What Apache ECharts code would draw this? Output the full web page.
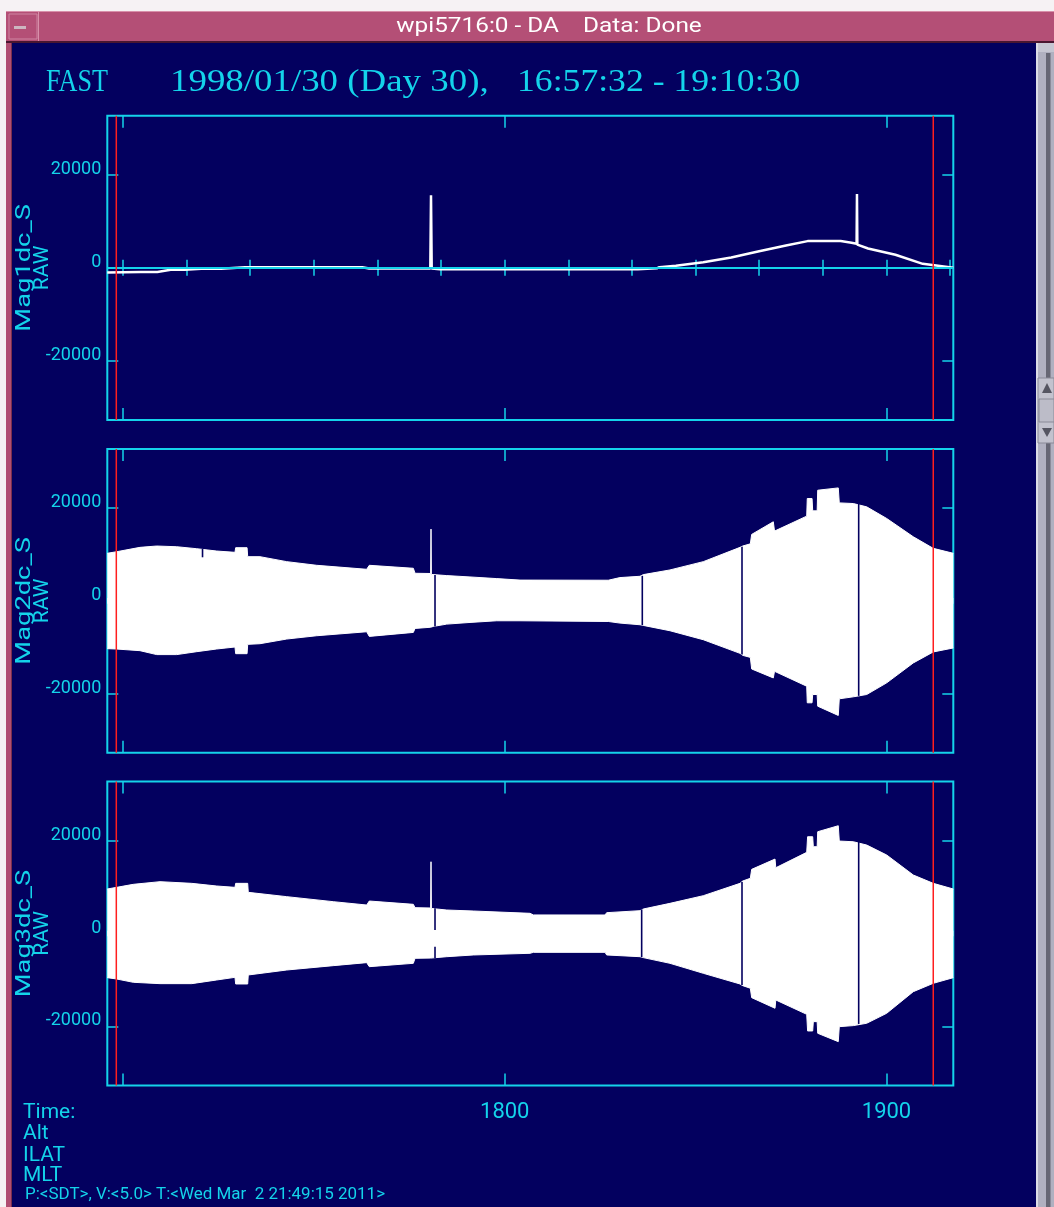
<!DOCTYPE html>
<html><head><meta charset="utf-8">
<script src="https://cdn.jsdelivr.net/npm/echarts@6/dist/echarts.min.js"></script>
<style>html,body{margin:0;padding:0;background:#fff;overflow:hidden}#c{width:1054px;height:1207px}</style>
</head><body><div id="c"></div>
<script>
// ---- time axis (minutes since 00:00 UT), 16:57:32 - 19:10:30 ----
const X_MIN = 1017.533, X_MAX = 1150.5;
const Y_MIN = -32768, Y_MAX = 32768;
const xMinorTicks = [1020,1030,1040,1050,1060,1070,1080,1090,1100,1110,1120,1130,1140,1150];
const xMajorTicks = [1020,1080,1140];
const xLabelValues = [1080,1140];
const xLabelText = ['1800','1900'];
const yTicks = [-20000,0,20000];
const panelNames = ['Mag1dc_S','Mag2dc_S','Mag3dc_S'];
const unitName = 'RAW';
const markerTimes = [1018.95, 1147.35];

// Mag1dc_S
const t1 = [1017.53,1022.80,1025.40,1027.50,1029.70,1032.30,1035.40,1039.20,1057.60,1058.70,1068.30,1068.41,1068.52,1069.80,1100.90,1103.90,1104.30,1106.90,1111.20,1115.60,1119.80,1124.20,1127.60,1132.80,1134.50,1135.30,1135.36,1135.42,1137.10,1141.40,1145.70,1150.50];
const v1 = [-1000,-870,-870,-430,-430,-220,-220,140,140,-150,-150,15630,-150,-300,-300,-100,140,430,1210,2230,3520,4820,5760,5760,5400,5200,15920,5000,4170,2810,860,0];

// Mag2dc_S envelope (upper / lower)
const t2 = [1017.53,1019.00,1022.67,1025.30,1028.44,1031.58,1034.73,1037.60,1037.71,1039.50,1039.60,1041.53,1045.73,1050.44,1058.30,1058.71,1065.63,1065.90,1068.35,1068.41,1068.47,1068.77,1070.88,1074.54,1078.74,1082.40,1096.27,1098.11,1101.26,1101.78,1105.97,1111.21,1116.98,1117.40,1118.60,1118.81,1122.21,1122.40,1127.46,1127.55,1128.30,1128.40,1129.10,1129.19,1132.42,1132.58,1134.78,1136.89,1140.03,1144.21,1147.35,1150.50];
const hi2 = [10260,10600,11540,11830,11680,11250,10750,10470,11470,11470,9530,9530,8460,7670,6810,7670,7030,5950,5900,15480,5700,5590,5450,5160,4800,4480,4450,5020,5300,5660,6670,8460,11540,11830,12300,14340,17060,15050,18280,22080,22080,19420,19420,23870,24370,21140,21000,20280,17780,13830,11330,10260];
const lo2 = [-10320,-10400,-10750,-11600,-11600,-10970,-10390,-9960,-11400,-11400,-9390,-9250,-8240,-7530,-6670,-7670,-6810,-5950,-5700,-5700,-5600,-5520,-5020,-4660,-4300,-4300,-4450,-4800,-5160,-5300,-6450,-8390,-11330,-11760,-12200,-14700,-16630,-15200,-18420,-22000,-22000,-20210,-20210,-22730,-24730,-21140,-20710,-20210,-17700,-13400,-11030,-10170];
const gapT2 = [1032.50,1069.04,1101.62,1117.29,1135.63];
const gapLo2 = [9400,-5520,-5250,-11600,-20500];
const gapHi2 = [11200,5600,5400,11700,20900];

// Mag3dc_S envelope (upper / lower)
const t3 = [1017.53,1019.01,1021.62,1025.82,1030.80,1034.73,1037.60,1037.71,1039.60,1039.69,1045.73,1053.05,1058.30,1058.71,1065.63,1065.90,1068.35,1068.41,1068.47,1070.88,1075.06,1083.97,1084.50,1095.76,1096.02,1101.26,1101.78,1105.97,1111.21,1116.98,1117.40,1118.60,1118.81,1122.48,1122.60,1127.46,1127.60,1128.40,1128.50,1129.10,1129.19,1132.42,1132.58,1134.78,1136.89,1140.03,1144.21,1147.35,1150.50];
const hi3 = [9590,9950,10600,11170,10810,10240,9950,10810,10810,8870,7940,6860,6140,7000,6290,5570,5500,15470,5400,5060,4850,4350,4000,3990,4490,4920,5280,6500,8150,10810,11310,11900,13830,16050,14180,17490,20860,20860,18710,18710,21940,23230,19930,19780,19070,16920,12610,10810,9590];
const lo3 = [-9520,-9810,-10520,-10810,-10810,-10020,-9450,-10880,-10880,-8940,-7870,-6930,-6280,-7150,-6430,-5350,-5300,-5300,-5200,-5000,-4630,-4270,-4060,-4060,-4630,-5000,-5200,-6430,-8580,-10880,-11240,-11800,-13830,-16120,-14330,-17420,-21010,-21010,-19000,-19000,-21510,-23310,-20080,-19860,-19350,-17200,-12540,-10740,-9520];
const gapT3 = [1069.04,1069.04,1101.52,1117.29,1135.63];
const gapLo3 = [750,-5340,-5100,-11100,-19500];
const gapHi3 = [5430,-2840,5200,11100,19800];

// ---- styling ----
const NAVY = '#03005f', CYAN = '#14d3ea', RED = '#ff1e1e', WHITE = '#ffffff';
const SANS = 'Roboto, "DejaVu Sans", sans-serif';

const gridBoxes = [[115.7,304.3],[449,303.7],[781.5,304]];
const grid = gridBoxes.map(g => ({left:107.3, width:846, top:g[0], height:g[1], show:true,
  borderColor:CYAN, borderWidth:2, backgroundColor:'transparent'}));

function xAx(gi, pos, ticks, len, labels) {
  return {type:'value', gridIndex:gi, min:X_MIN, max:X_MAX, position:pos,
    axisLine:{show:false}, splitLine:{show:false},
    axisTick:{show:true, inside:true, length:len, customValues:ticks, lineStyle:{color:CYAN, width:1.5}},
    axisLabel: labels ? {show:true, customValues:xLabelValues, color:CYAN, fontFamily:SANS, fontSize:22,
      margin:16, verticalAlign:'top', lineHeight:22,
      formatter: v => xLabelText[xLabelValues.indexOf(Math.round(v))] || ''} : {show:false}};
}
function yAx(gi, pos, labels) {
  return {type:'value', gridIndex:gi, min:Y_MIN, max:Y_MAX, position:pos,
    axisLine:{show:false}, splitLine:{show:false},
    axisTick:{show:true, inside:true, length:11, customValues:yTicks, lineStyle:{color:CYAN, width:1.5}},
    axisLabel: labels ? {show:true, customValues:yTicks, color:CYAN, fontFamily:SANS, fontSize:18,
      margin:6, verticalAlign:'bottom', lineHeight:11, formatter: v => String(v)} : {show:false}};
}
const xAxis = [], yAxis = [];
for (let i = 0; i < 3; i++) {
  xAxis.push(xAx(i,'bottom',xMinorTicks,8,i===2));
  xAxis.push(xAx(i,'top',xMinorTicks,8,false));
  xAxis.push(xAx(i,'bottom',xMajorTicks,12,false));
  xAxis.push(xAx(i,'top',xMajorTicks,12,false));
  yAxis.push(yAx(i,'left',true));
  yAxis.push(yAx(i,'right',false));
}

const pairs = (t, v) => t.map((x, k) => [x, v[k]]);

function gapSeries(gi, gt, glo, ghi) {
  return {type:'custom', xAxisIndex:gi*4, yAxisIndex:gi*2, z:4, silent:true, animation:false,
    data: gt.map((t,k) => [t, glo[k], ghi[k]]),
    encode:{x:0, y:[1,2]},
    renderItem:(params, api) => {
      const a = api.coord([api.value(0), api.value(1)]);
      const b = api.coord([api.value(0), api.value(2)]);
      return {type:'line', shape:{x1:a[0], y1:a[1], x2:b[0], y2:b[1]}, style:{stroke:NAVY, lineWidth:1.6}};
    }};
}
function markerSeries(gi) {
  return {type:'custom', xAxisIndex:gi*4, yAxisIndex:gi*2, z:6, silent:true, animation:false,
    data: markerTimes.map(t => [t]), encode:{x:0},
    renderItem:(params, api) => {
      const a = api.coord([api.value(0), Y_MAX]);
      const b = api.coord([api.value(0), Y_MIN]);
      return {type:'line', shape:{x1:a[0], y1:a[1], x2:b[0], y2:b[1]}, style:{stroke:RED, lineWidth:1.5}};
    }};
}
// upper and lower envelopes each filled toward (slightly past) zero so they overlap
function bandSeries(gi, t, v, origin) {
  return {type:'line', xAxisIndex:gi*4, yAxisIndex:gi*2, z:3, silent:true, animation:false,
    data: pairs(t, v), showSymbol:false, symbol:'none',
    lineStyle:{color:WHITE, width:1}, areaStyle:{color:WHITE, opacity:1, origin:origin}};
}

const series = [
  {type:'line', xAxisIndex:0, yAxisIndex:0, z:1, silent:true, animation:false, data:[],
    markLine:{silent:true, symbol:'none', animation:false, label:{show:false},
      lineStyle:{color:CYAN, width:2, type:'solid'}, data:[{yAxis:0}]}},
  {type:'line', xAxisIndex:0, yAxisIndex:0, z:3, silent:true, animation:false,
    data: pairs(t1, v1), showSymbol:false, symbol:'none', lineStyle:{color:WHITE, width:2.5}},
  markerSeries(0),
  bandSeries(1, t2, hi2, -600), bandSeries(1, t2, lo2, 600), gapSeries(1, gapT2, gapLo2, gapHi2), markerSeries(1),
  bandSeries(2, t3, hi3, -600), bandSeries(2, t3, lo3, 600), gapSeries(2, gapT3, gapLo3, gapHi3), markerSeries(2)
];

// ---- window chrome and text ----
const graphic = [
  {type:'rect', shape:{x:0,y:0,width:1054,height:11}, style:{fill:'#f6f2f4'}},
  {type:'rect', shape:{x:0,y:0,width:6,height:1207}, style:{fill:'#f6f2f4'}},
  {type:'rect', shape:{x:6,y:11,width:6,height:1196}, style:{fill:'#b04d72'}},
  {type:'rect', shape:{x:11,y:42,width:1,height:1165}, style:{fill:'#7a2e4c'}},
  {type:'rect', shape:{x:6,y:11,width:1048,height:31}, style:{fill:'#b44f76'}},
  {type:'rect', shape:{x:6,y:11,width:1048,height:1}, style:{fill:'#d890aa'}},
  {type:'rect', shape:{x:6,y:41,width:1048,height:2}, style:{fill:'#4a1630'}},
  {type:'rect', shape:{x:9,y:14,width:28,height:25}, style:{fill:'none', stroke:'#cf86a2', lineWidth:1}},
  {type:'rect', shape:{x:14,y:26,width:12,height:3}, style:{fill:'#cdb6c0'}},
  {type:'rect', shape:{x:38,y:12,width:1,height:29}, style:{fill:'#d890aa'}},
  {type:'text', x:549, y:27, scaleX:1.16, style:{text:'wpi5716:0 - DA    Data: Done', fill:'#ffffff', font:'21px ' + SANS, align:'center', verticalAlign:'middle'}},
  {type:'rect', shape:{x:1036,y:43,width:18,height:1164}, style:{fill:'#b0b0c0'}},
  {type:'rect', shape:{x:1036,y:43,width:2,height:1164}, style:{fill:'#dcdce6'}},
  {type:'rect', shape:{x:1038,y:43,width:16,height:9}, style:{fill:'#c6c6d2'}},
  {type:'rect', shape:{x:1046,y:53,width:4.5,height:325}, style:{fill:'#666674'}},
  {type:'rect', shape:{x:1046,y:443,width:4.5,height:764}, style:{fill:'#666674'}},
  {type:'rect', shape:{x:1038,y:378,width:16,height:65}, style:{fill:'#c2c2ce', stroke:'#8a8a98', lineWidth:1}},
  {type:'rect', shape:{x:1039,y:399,width:15,height:23}, style:{fill:'#bcbcc8', stroke:'#8a8a98', lineWidth:1}},
  {type:'polygon', shape:{points:[[1047,383],[1042,393],[1052,393]]}, style:{fill:'#555562'}},
  {type:'polygon', shape:{points:[[1042,428],[1052,428],[1047,437]]}, style:{fill:'#555562'}},
  {type:'text', x:46, y:83, scaleX:0.845, style:{text:'FAST', fill:CYAN, font:'31px "Liberation Serif", serif', verticalAlign:'middle'}},
  {type:'text', x:170, y:83, scaleX:1.19, style:{text:'1998/01/30 (Day 30),', fill:CYAN, font:'31px "Liberation Serif", serif', verticalAlign:'middle'}},
  {type:'text', x:517, y:83, scaleX:1.15, style:{text:'16:57:32 - 19:10:30', fill:CYAN, font:'31px "Liberation Serif", serif', verticalAlign:'middle'}},
  {type:'text', x:23, y:1113, style:{text:'Time:', fill:CYAN, font:'21px ' + SANS, verticalAlign:'middle'}},
  {type:'text', x:23, y:1134, style:{text:'Alt', fill:CYAN, font:'21px ' + SANS, verticalAlign:'middle'}},
  {type:'text', x:23, y:1155.5, style:{text:'ILAT', fill:CYAN, font:'21px ' + SANS, verticalAlign:'middle'}},
  {type:'text', x:23, y:1175.5, style:{text:'MLT', fill:CYAN, font:'21px ' + SANS, verticalAlign:'middle'}},
  {type:'text', x:25, y:1195, scaleX:1.06, style:{text:'P:<SDT>, V:<5.0> T:<Wed Mar  2 21:49:15 2011>', fill:CYAN, font:'16px ' + SANS, verticalAlign:'middle'}}
];
const panelCenters = gridBoxes.map(g => g[0] + g[1] / 2);
panelCenters.forEach((cy, i) => {
  graphic.push({type:'text', x:25, y:cy, rotation:Math.PI/2, scaleX:1.3,
    style:{text:panelNames[i], fill:CYAN, font:'21px ' + SANS, align:'center', verticalAlign:'middle'}});
  graphic.push({type:'text', x:42.5, y:cy, rotation:Math.PI/2,
    style:{text:unitName, fill:CYAN, font:'21px ' + SANS, align:'center', verticalAlign:'middle'}});
});

const chart = echarts.init(document.getElementById('c'), null, {renderer:'canvas', width:1054, height:1207});
chart.setOption({backgroundColor:NAVY, animation:false, grid, xAxis, yAxis, series, graphic});
</script></body></html>
